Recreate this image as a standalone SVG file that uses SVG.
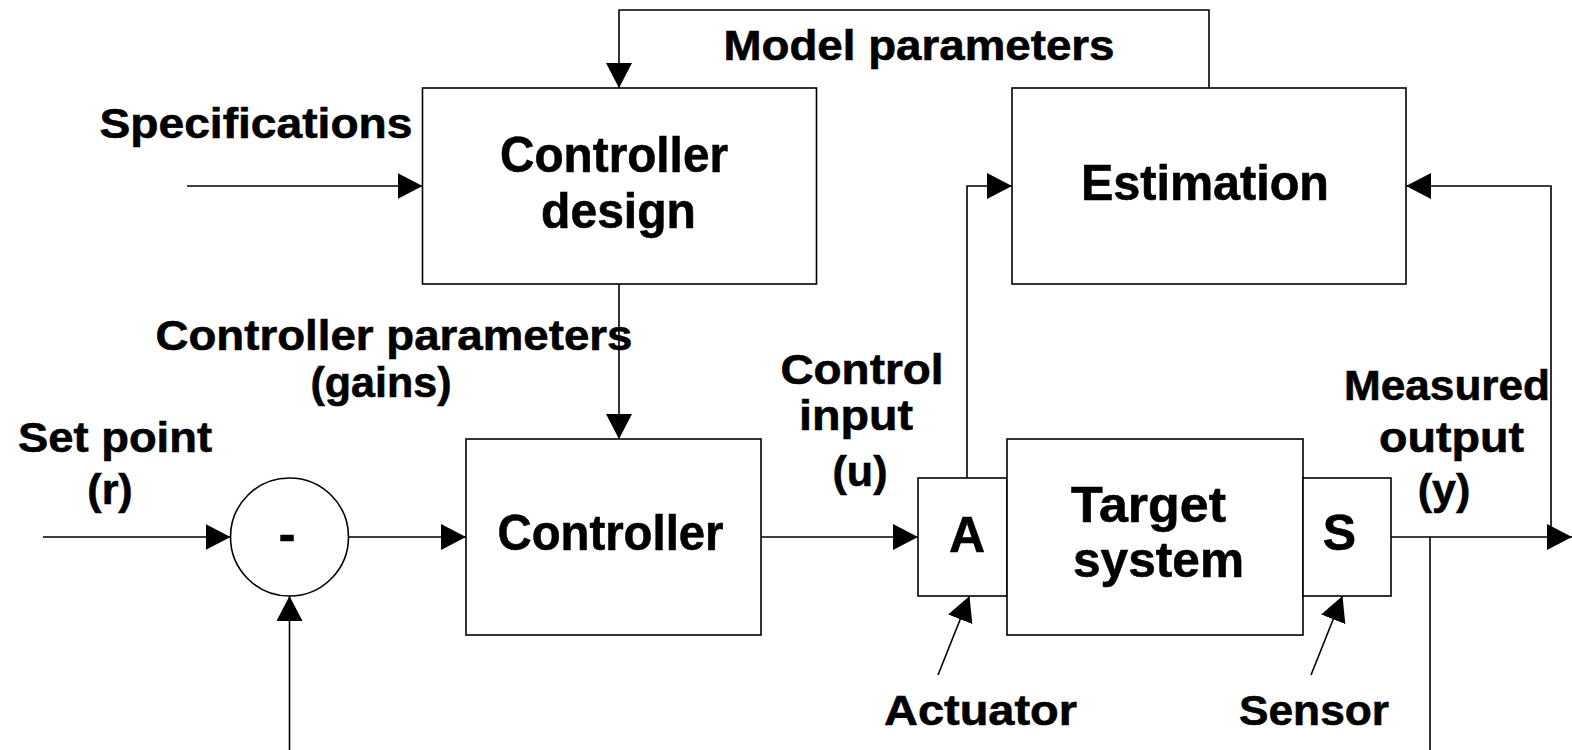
<svg xmlns="http://www.w3.org/2000/svg" width="1572" height="750" viewBox="0 0 1572 750">
  <style>
    .box { fill: #ffffff; stroke: #000000; stroke-width: 1.6; }
    .wire { fill: none; stroke: #000000; stroke-width: 1.6; }
    .arrow { marker-end: url(#head); }
    text { font-family: "Liberation Sans", Arial, sans-serif; font-weight: bold; fill: #000000; stroke: #000000; stroke-width: 0.6; text-anchor: middle; }
    .lbl { font-size: 43px; }
    .blk { font-size: 50px; }
  </style>
  <defs>
    <marker id="head" markerUnits="userSpaceOnUse" markerWidth="26" markerHeight="26" refX="25" refY="13" orient="auto">
      <path d="M0,0 L25,13 L0,26 Z" fill="#000000"/>
    </marker>
  </defs>

  <rect width="1572" height="750" fill="#ffffff"/>

  <!-- signal lines -->
  <g id="connectors">
    <polyline class="wire arrow" points="1209,88 1209,10 619,10 619,88"/>
    <line class="wire arrow" x1="187" y1="186" x2="422.5" y2="186"/>
    <line class="wire arrow" x1="619" y1="284" x2="619" y2="439"/>
    <line class="wire arrow" x1="43" y1="537" x2="230.5" y2="537"/>
    <line class="wire arrow" x1="348.5" y1="537" x2="466" y2="537"/>
    <line class="wire arrow" x1="289.5" y1="750" x2="289.5" y2="596"/>
    <line class="wire arrow" x1="761" y1="537" x2="918" y2="537"/>
    <polyline class="wire arrow" points="967,478 967,186 1012,186"/>
    <line class="wire arrow" x1="1391" y1="537" x2="1572" y2="537"/>
    <polyline class="wire arrow" points="1551,537 1551,186 1406,186"/>
    <line class="wire" x1="1430" y1="537" x2="1430" y2="750"/>
    <line class="wire arrow" x1="938" y1="675" x2="969.5" y2="596"/>
    <line class="wire arrow" x1="1311" y1="675" x2="1342.5" y2="596"/>
  </g>

  <g id="controller-design">
    <rect class="box" x="422.5" y="88" width="394" height="196"/>
    <text class="blk" x="614" y="171.5" textLength="228" lengthAdjust="spacingAndGlyphs">Controller</text>
    <text class="blk" x="618.5" y="228" textLength="155" lengthAdjust="spacingAndGlyphs">design</text>
  </g>

  <g id="estimation">
    <rect class="box" x="1012" y="88" width="394" height="196"/>
    <text class="blk" x="1205" y="199.5" textLength="248" lengthAdjust="spacingAndGlyphs">Estimation</text>
  </g>

  <g id="summing-junction">
    <circle class="box" cx="289.5" cy="537" r="59"/>
    <text class="blk" x="287" y="551">-</text>
  </g>

  <g id="controller">
    <rect class="box" x="466" y="439" width="295" height="196"/>
    <text class="blk" x="610.5" y="550" textLength="226" lengthAdjust="spacingAndGlyphs">Controller</text>
  </g>

  <g id="actuator">
    <rect class="box" x="918" y="478" width="89" height="118"/>
    <text class="blk" x="967" y="551.5">A</text>
  </g>

  <g id="target-system">
    <rect class="box" x="1007" y="439" width="296" height="196"/>
    <text class="blk" x="1148.5" y="521.5" textLength="155" lengthAdjust="spacingAndGlyphs">Target</text>
    <text class="blk" x="1158.5" y="577" textLength="171" lengthAdjust="spacingAndGlyphs">system</text>
  </g>

  <g id="sensor">
    <rect class="box" x="1303" y="478" width="88" height="118"/>
    <text class="blk" x="1339.5" y="550">S</text>
  </g>

  <!-- signal labels -->
  <g id="labels">
    <text class="lbl" x="919" y="60" textLength="391" lengthAdjust="spacingAndGlyphs">Model parameters</text>
    <text class="lbl" x="256" y="137.5" textLength="313" lengthAdjust="spacingAndGlyphs">Specifications</text>
    <text class="lbl" x="394" y="350" textLength="477" lengthAdjust="spacingAndGlyphs">Controller parameters</text>
    <text class="lbl" x="381" y="397">(gains)</text>
    <text class="lbl" x="115" y="452" textLength="194" lengthAdjust="spacingAndGlyphs">Set point</text>
    <text class="lbl" x="110" y="504">(r)</text>
    <text class="lbl" x="862" y="383.5" textLength="163" lengthAdjust="spacingAndGlyphs">Control</text>
    <text class="lbl" x="856" y="430" textLength="114" lengthAdjust="spacingAndGlyphs">input</text>
    <text class="lbl" x="860" y="486">(u)</text>
    <text class="lbl" x="1447" y="400" textLength="206" lengthAdjust="spacingAndGlyphs">Measured</text>
    <text class="lbl" x="1451.5" y="452" textLength="145" lengthAdjust="spacingAndGlyphs">output</text>
    <text class="lbl" x="1444" y="504">(y)</text>
    <text class="lbl" x="980.5" y="725" textLength="193" lengthAdjust="spacingAndGlyphs">Actuator</text>
    <text class="lbl" x="1314" y="725" textLength="150" lengthAdjust="spacingAndGlyphs">Sensor</text>
  </g>
</svg>
